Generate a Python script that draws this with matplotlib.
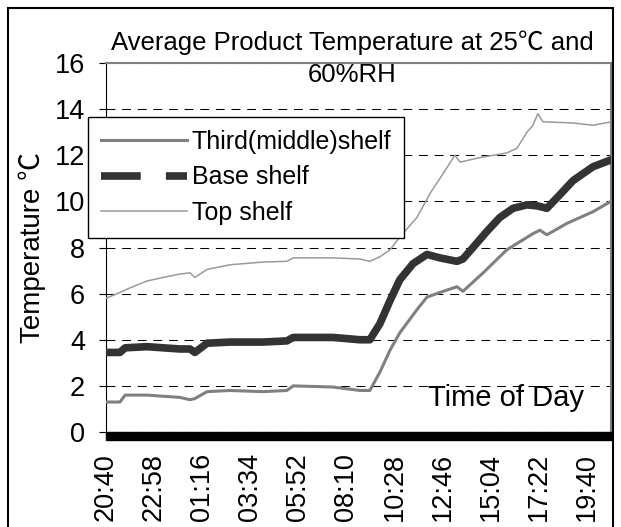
import matplotlib
matplotlib.use("Agg")
import matplotlib.pyplot as plt
from matplotlib.lines import Line2D
from matplotlib.patches import Rectangle

plt.rcParams['font.family'] = ['Liberation Sans', 'Noto Sans CJK SC', 'DejaVu Sans']

# minutes after 20:40
t_third = [0, 40, 55, 118, 164, 212, 241, 255, 290, 356, 450, 519, 537, 651, 729, 757,
           786, 815, 843, 892, 921, 958, 1007, 1024, 1082, 1150, 1225, 1245, 1265, 1323,
           1397, 1449]
third = [1.3, 1.3, 1.6, 1.6, 1.55, 1.5, 1.4, 1.45, 1.75, 1.8, 1.75, 1.8, 2.0, 1.95, 1.8, 1.8,
         2.6, 3.55, 4.3, 5.3, 5.85, 6.05, 6.3, 6.1, 6.9, 7.9, 8.6, 8.75, 8.55, 9.05,
         9.55, 10.0]

t_base = [0, 40, 55, 118, 164, 212, 241, 255, 290, 356, 450, 519, 537, 651, 729, 757,
          786, 815, 843, 881, 921, 958, 1007, 1024, 1053, 1093, 1130, 1168, 1208, 1239,
          1265, 1303, 1340, 1397, 1449]
base = [3.45, 3.45, 3.65, 3.7, 3.65, 3.6, 3.6, 3.45, 3.85, 3.9, 3.9, 3.95, 4.1, 4.1, 4.0, 4.0,
        4.7, 5.7, 6.6, 7.3, 7.7, 7.55, 7.4, 7.5, 8.0, 8.7, 9.3, 9.7, 9.85, 9.8,
        9.7, 10.3, 10.9, 11.5, 11.8]

t_top = [0, 40, 69, 118, 164, 212, 241, 255, 290, 356, 450, 519, 537, 651, 729, 757,
         786, 815, 843, 892, 930, 967, 1001, 1016, 1073, 1150, 1179, 1208, 1225, 1239,
         1254, 1340, 1397, 1449]
top = [5.8, 6.05, 6.25, 6.55, 6.7, 6.85, 6.9, 6.7, 7.05, 7.25, 7.37, 7.4, 7.55, 7.55, 7.5, 7.4,
       7.6, 7.9, 8.45, 9.3, 10.35, 11.2, 12.0, 11.7, 11.9, 12.1, 12.3, 13.0, 13.3, 13.8,
       13.45, 13.4, 13.3, 13.45]

tick_pos = [0, 138, 276, 414, 552, 690, 828, 966, 1104, 1242, 1380]
tick_labels = ["20:40", "22:58", "01:16", "03:34", "05:52", "08:10",
               "10:28", "12:46", "15:04", "17:22", "19:40"]
labels = ["Third(middle)shelf", "Base shelf", "Top shelf"]

fig = plt.figure(figsize=(6.21, 5.27), dpi=100)
ax = fig.add_axes([106/621, 1-432/527, 505/621, 369/527])

ax.plot(t_third, third, color="#808080", lw=2.2, zorder=3)
ax.plot(t_base, base, color="#333333", lw=5.5, zorder=4)
ax.plot(t_top, top, color="#9a9a9a", lw=1.1, zorder=3)

ax.set_xlim(0, 1449)
ax.set_ylim(0, 16)
ax.set_yticks(range(0, 17, 2))
ax.set_xticks(tick_pos)
ax.set_xticklabels(tick_labels, rotation=90, fontsize=19.5)
ax.tick_params(axis='y', labelsize=19.5, length=5, pad=10, direction='out')
ax.tick_params(axis='x', length=0, pad=15)
ax.yaxis.grid(True, color='black', lw=0.75, linestyle=(0, (8.5, 6.5)))
ax.set_axisbelow(True)

for s in ['top', 'right']:
    ax.spines[s].set_color('#808080')
    ax.spines[s].set_linewidth(1.5)
ax.spines['left'].set_color('black')
ax.spines['bottom'].set_visible(False)
# thick black bar along zero
ax.add_patch(Rectangle((0, -8/369), 1, 8/369, transform=ax.transAxes,
                       color='black', clip_on=False, zorder=5))

ax.set_ylabel("Temperature ℃", fontsize=20)
ax.yaxis.label.set_va('center')
ax.yaxis.set_label_coords((32-106)/505, 0.5)
ax.text(0.638, 0.091, "Time of Day", transform=ax.transAxes, fontsize=21,
        ha='left', va='center')

fig.text(352/621, 1-58.5/527, "Average Product Temperature at 25℃ and\n60%RH",
         ha='center', va='center', fontsize=18.5, linespacing=1.4)

handles = [Line2D([], [], color="#808080", lw=2.2),
           Line2D([], [], color="#333333", lw=5.5, linestyle=(0, (5.2, 3.3))),
           Line2D([], [], color="#9a9a9a", lw=1.1)]
leg = ax.legend(handles, labels, loc='upper left', bbox_to_anchor=(88/621, 1-117/527),
                bbox_transform=fig.transFigure, fontsize=18, fancybox=False,
                framealpha=1, edgecolor='black', borderpad=0.5, labelspacing=0.47,
                handlelength=3.46, handletextpad=0.2, borderaxespad=0)
leg.get_frame().set_linewidth(1.0)
leg.set_zorder(10)

# outer chart border
fig.add_artist(Rectangle((8/621, -0.05), 605/621, 1.05-8/527, transform=fig.transFigure,
                         fill=False, edgecolor='black', lw=1.5))

fig.savefig("out.png", dpi=100)
